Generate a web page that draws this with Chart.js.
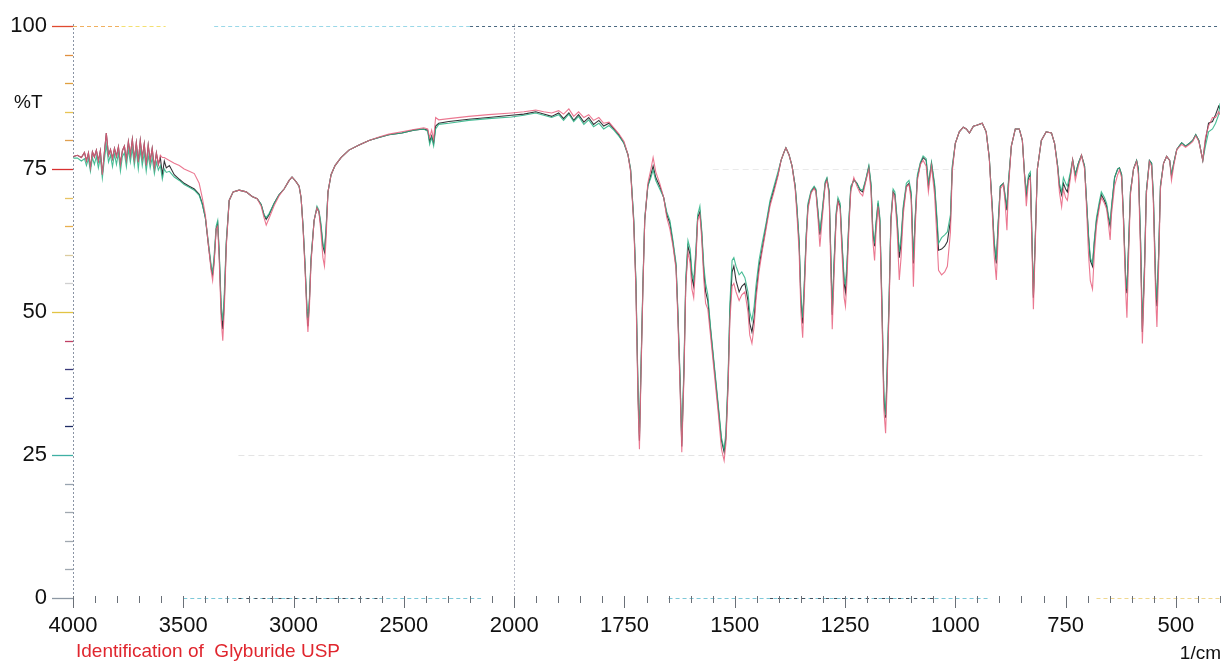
<!DOCTYPE html>
<html><head><meta charset="utf-8">
<script src="https://cdn.jsdelivr.net/npm/chart.js@4"></script>
<style>
html,body{margin:0;padding:0;background:#fff;}
#wrap{position:relative;width:1223px;height:665px;overflow:hidden;}
canvas{position:absolute;left:0;top:0;}
.lbl{position:absolute;font-family:"Liberation Sans",Arial,sans-serif;white-space:nowrap;line-height:1;}
</style></head><body>
<div id="wrap"><canvas id="c" width="1223" height="665"></canvas>
<div class="lbl" style="left:14px;top:92px;font-size:19px;color:#111">%T</div>
<div class="lbl" style="left:76px;top:641px;font-size:19px;color:#e0262e">Identification of&nbsp; Glyburide USP</div>
<div class="lbl" style="right:2px;top:643px;font-size:19px;color:#111">1/cm</div>
</div>
<script>
// ---- data (wavenumber in 1/cm, transmittance in %T) ----
const wavenumbers = [3998,3980,3962,3948,3939,3930,3921,3912,3903,3894,3885,3876,3867,3858,3849,3839,3830,3821,3812,3803,3794,3785,3776,3767,3758,3749,3740,3731,3722,3713,3704,3695,3686,3677,3668,3659,3650,3641,3631,3622,3613,3604,3595,3586,3577,3563,
3541,3518,3496,3473,3450,3428,3414,3400,3387,3373,3367,3360,3351,3344,3337,3328,3321,3314,3305,3292,3274,3247,3215,3188,3165,3147,3134,3124,3111,3088,3066,3043,3020,3007,2989,2975,2966,2957,2948,2939,2935,2928,2921,2907,2894,2885,2876,2867,2860,2853,2844,
2830,2812,2785,2749,2703,2658,2613,2568,2509,2455,2410,2392,2383,2374,2365,2356,2342,2296,2206,2116,2012,
1978,1951,1933,1915,1899,1888,1876,1865,1854,1842,1831,1820,1808,1797,1785,1774,1763,1751,1742,1736,1729,1724,1719,1716,1713,1708,1704,1697,1690,1685,1679,1670,1661,1654,1647,1640,1633,1629,1624,1620,1615,1611,1606,1601,1597,1593,1588,1584,1579,1575,1570,1566,1561,1555,1546,1537,1530,1524,1520,1515,1511,1506,1502,1497,1490,1484,1477,1470,1466,1461,1456,1452,1445,1438,1429,1420,1411,1402,1395,1388,1384,1377,1370,1363,1359,1354,1350,1346,1343,1338,1334,1327,1320,1316,1311,1307,1302,1295,1291,1286,1283,1279,1275,1270,1266,1261,1257,1252,1249,1246,1241,1237,1230,1223,1216,1210,1203,1196,1191,1187,1183,1180,1175,1171,1166,1162,1158,1155,1150,1146,1141,1137,1132,1127,1123,1118,1111,1105,1100,1095,1091,1086,1079,1073,1066,1061,1054,1047,1041,1038,1031,1024,1018,1011,1007,1000,
991,982,975,968,959,950,939,930,923,916,912,907,903,898,891,887,883,880,873,864,855,848,843,839,834,830,826,823,819,814,805,794,782,775,768,764,759,755,750,746,739,734,728,721,714,707,703,698,694,689,685,680,673,669,662,657,653,649,646,639,632,628,623,619,614,611,607,603,596,589,585,580,576,571,567,560,555,551,546,543,539,535,528,521,514,510,505,498,487,478,469,462,455,448,439,433,426,417,410,403,400];

const transBlack = [77.2,77.4,77.0,77.9,76.4,77.8,75.2,78.0,77.1,78.3,76.4,78.2,74.0,77.8,81.3,77.4,78.4,76.8,78.6,77.2,78.9,75.8,78.2,79.0,76.6,79.8,77.4,80.2,76.6,79.6,76.2,80.0,76.9,79.4,75.6,79.2,76.4,78.6,75.2,77.8,75.8,77.0,74.0,76.4,75.2,75.6,
74.0,73.2,72.5,72.0,71.5,70.6,69.0,66.5,62.0,57.5,56.5,59.0,64.5,65.5,60.0,50.0,47.0,52.0,62.0,69.5,71.0,71.3,71.0,70.2,69.8,68.8,67.0,66.2,67.0,69.0,70.5,71.5,73.0,73.6,72.8,72.0,70.0,65.0,58.0,50.0,47.5,52.0,59.0,66.0,68.2,67.5,65.0,61.5,60.5,64.0,71.0,
74.0,75.6,77.0,78.3,79.2,80.0,80.5,81.0,81.3,81.8,82.0,81.8,79.8,80.8,79.5,82.5,83.0,83.3,83.7,84.0,84.4,
84.6,85.0,84.6,84.2,84.8,83.8,84.8,83.5,84.5,83.2,84.0,82.8,83.5,82.5,83.0,82.0,81.0,79.5,77.5,74.8,66.0,55.0,35.0,27.5,38.0,55.0,66.0,72.0,74.0,75.5,73.5,72.0,70.0,67.0,65.5,62.0,58.0,50.0,38.0,26.5,40.0,55.0,61.5,60.0,56.0,54.5,60.0,66.5,67.5,64.0,57.0,53.5,52.0,47.0,40.0,33.0,27.5,25.5,28.0,38.0,50.0,57.0,58.0,55.5,53.5,54.5,55.0,52.0,48.0,46.5,49.0,53.0,58.0,61.0,65.0,69.0,71.5,74.0,76.5,78.0,78.7,77.5,75.5,72.0,68.0,62.0,52.0,48.0,53.0,63.0,68.5,71.0,71.8,71.3,67.0,63.5,67.0,72.5,73.3,71.0,62.0,49.5,58.0,67.0,69.5,68.5,62.0,55.0,53.5,57.0,66.0,71.5,73.2,72.5,71.3,71.0,73.0,75.4,72.0,64.0,61.5,65.0,69.0,66.0,50.0,35.0,31.5,38.0,52.0,66.0,71.0,70.5,66.0,59.5,62.0,68.0,72.0,72.5,70.5,58.5,66.0,73.5,76.0,77.0,76.5,72.0,76.0,72.0,65.0,60.8,61.0,61.5,62.3,66.0,75.0,79.5,
81.5,82.3,82.0,81.3,82.5,82.7,83.0,81.5,77.0,68.0,62.0,58.5,65.0,72.0,72.5,70.0,67.8,72.0,79.0,82.0,82.0,80.0,74.0,70.5,73.5,74.0,62.0,52.5,62.0,75.0,80.0,81.5,81.3,79.5,75.5,72.0,70.5,72.5,71.5,71.0,74.0,76.6,74.0,76.0,77.4,75.5,70.0,63.0,59.0,58.0,62.0,66.0,69.0,70.5,69.5,68.5,66.5,65.0,68.0,73.5,75.0,75.2,74.0,67.0,56.0,53.3,62.0,71.0,75.0,76.5,75.0,62.0,46.5,58.0,71.0,76.5,76.0,70.0,55.0,51.0,60.0,72.0,76.0,77.2,76.5,73.8,76.0,78.4,79.6,79.0,79.5,80.0,81.0,80.0,76.5,80.0,83.0,83.3,84.5,86.0,85.5];

const transPink = [77.2,77.4,77.0,77.9,76.4,77.8,75.2,78.0,77.1,78.3,76.4,78.2,74.0,77.8,81.3,77.4,78.4,76.8,78.6,77.2,78.9,75.8,78.2,79.0,76.6,79.8,77.4,80.2,76.6,79.6,76.2,80.0,76.9,79.4,75.6,79.2,76.4,78.6,75.2,77.8,75.8,77.4,77.0,77.0,76.8,76.5,
76.0,75.6,75.0,74.6,74.2,72.5,70.0,67.0,62.0,57.0,55.5,58.5,64.5,65.0,59.0,48.5,45.0,50.5,61.5,69.5,71.0,71.3,71.0,70.2,69.8,68.5,66.5,65.2,66.4,68.6,70.3,71.5,73.0,73.6,72.8,72.0,70.0,64.5,57.5,49.0,46.5,51.0,58.5,66.0,68.2,67.5,64.0,59.5,58.0,62.5,71.0,
74.0,75.6,77.0,78.3,79.2,80.0,80.6,81.1,81.5,81.9,82.2,82.0,80.5,81.8,80.2,84.0,83.6,83.8,84.2,84.5,84.8,
85.0,85.3,85.0,84.8,85.2,84.6,85.5,84.2,85.0,84.0,84.5,83.5,84.0,83.0,83.2,82.2,81.2,79.8,77.5,74.5,65.5,54.0,33.5,26.0,37.0,54.5,66.0,72.5,75.0,77.0,74.5,72.5,70.0,66.5,64.5,61.5,57.5,49.0,37.0,25.5,39.0,54.5,60.5,58.5,54.0,52.5,59.0,66.0,67.0,63.0,55.5,51.5,50.5,46.0,39.0,32.0,26.0,24.0,27.0,37.0,48.5,54.5,55.0,53.5,52.0,53.0,53.5,50.0,46.0,44.5,47.5,52.0,57.0,60.5,64.5,68.5,71.0,73.8,76.5,78.0,78.7,77.5,75.5,71.5,67.0,60.5,50.0,45.5,51.5,62.0,68.0,70.8,71.6,71.0,66.0,61.4,66.0,72.2,73.0,70.5,60.0,47.0,56.0,66.5,69.3,68.0,60.5,52.5,51.0,55.0,65.0,71.0,73.5,72.0,70.8,70.3,72.8,75.0,71.0,62.5,59.0,63.5,68.5,65.0,48.5,33.0,28.8,36.0,51.0,65.5,70.8,70.0,64.5,55.6,59.5,67.0,71.8,72.3,69.5,54.4,64.5,73.0,75.8,76.5,75.5,71.0,75.5,70.5,62.0,57.3,56.5,57.0,58.0,64.0,74.5,79.5,
81.5,82.3,82.0,81.3,82.5,82.7,83.0,81.5,76.8,67.0,60.0,55.6,63.0,71.5,72.3,69.0,64.3,71.0,79.0,82.0,82.0,80.0,73.5,68.5,73.0,73.5,60.5,50.5,61.0,75.0,80.0,81.5,81.3,79.5,75.0,71.0,68.4,71.5,70.0,69.5,73.5,76.6,73.0,75.5,77.4,75.0,69.0,60.0,55.5,54.0,60.0,65.0,68.5,70.0,69.0,68.0,65.5,62.6,67.0,72.0,74.0,74.8,73.5,66.0,54.0,49.0,60.0,70.5,75.0,76.3,74.0,60.0,44.5,56.5,70.5,76.3,75.5,69.0,53.0,47.4,58.0,71.5,76.0,77.2,76.5,73.0,75.5,78.4,79.3,78.8,79.3,79.8,80.8,79.8,76.5,80.5,82.5,84.0,84.0,85.0,84.5];

const transGreen = [76.9,76.9,76.4,76.8,75.6,76.8,74.6,77.0,75.8,77.2,75.2,77.0,73.4,76.6,79.2,76.2,77.4,75.4,77.6,75.8,77.8,74.6,77.2,77.8,75.4,78.4,76.2,78.6,75.6,78.2,75.0,78.4,75.6,77.8,74.6,77.4,75.2,77.0,74.2,76.2,74.8,75.6,73.2,75.0,74.4,74.6,
73.6,73.0,72.3,71.8,71.3,70.4,68.8,66.5,62.5,58.0,57.0,60.0,65.0,66.0,60.5,51.0,48.5,53.5,62.5,69.5,71.0,71.3,71.0,70.2,69.8,68.8,67.0,66.5,67.2,69.0,70.5,71.5,73.0,73.6,72.8,72.0,70.0,65.0,58.5,50.5,48.2,52.5,59.5,66.0,68.5,67.8,65.5,62.0,61.0,64.5,71.0,
74.0,75.6,77.0,78.3,79.2,80.0,80.5,81.0,81.3,81.8,82.0,81.6,79.3,80.5,79.0,82.0,82.8,83.0,83.5,83.8,84.1,
84.4,84.8,84.4,84.0,84.5,83.5,84.6,83.3,84.2,82.8,83.6,82.4,83.0,82.0,82.6,81.8,80.8,79.5,77.5,75.0,66.5,55.5,36.0,28.5,39.0,55.5,66.5,72.0,73.5,74.8,73.0,71.5,70.0,67.5,66.0,62.5,58.5,50.5,39.0,27.5,41.0,56.0,62.5,61.0,57.0,55.5,61.0,67.0,68.5,64.5,58.0,55.0,53.0,47.5,40.5,33.5,28.0,26.0,29.0,39.0,51.5,59.0,59.5,58.0,56.5,57.0,56.0,53.5,50.0,48.5,51.0,54.5,59.0,62.0,65.5,69.5,72.0,74.5,76.5,78.0,78.7,77.5,75.5,72.0,68.5,62.5,53.0,49.0,54.0,63.5,69.0,71.2,72.0,71.5,67.5,64.0,67.5,72.8,73.5,71.2,62.5,50.0,58.5,67.5,70.0,69.0,62.5,56.0,55.0,58.0,66.5,72.0,73.0,72.5,71.5,71.3,73.2,75.6,72.5,64.5,62.0,65.5,69.5,66.5,51.0,36.0,32.0,39.0,53.0,66.5,71.5,71.0,66.5,60.5,63.0,68.5,72.5,73.0,71.0,59.0,66.5,74.0,76.2,77.3,76.8,72.5,76.2,72.5,66.0,62.0,63.0,63.5,64.0,67.0,75.5,79.5,
81.5,82.3,82.0,81.3,82.5,82.7,83.0,81.5,77.0,68.0,62.5,59.0,65.5,72.0,72.5,70.5,68.5,72.5,79.0,82.0,82.0,80.0,74.0,71.0,74.0,74.5,62.5,53.0,62.5,75.0,80.0,81.5,81.3,79.5,75.5,72.5,71.0,73.5,72.5,72.0,74.5,76.6,74.0,76.0,77.4,75.5,70.0,63.5,59.5,58.5,62.5,66.5,69.5,71.0,70.0,69.0,67.0,65.5,68.5,73.5,75.0,75.2,74.0,67.0,56.5,54.0,62.5,71.0,75.0,76.5,75.0,62.5,47.0,58.5,71.0,76.5,76.0,70.5,56.0,52.0,60.5,72.0,76.0,77.2,76.5,74.0,76.0,78.4,79.6,79.0,79.5,80.0,81.0,80.0,76.5,79.0,81.5,82.0,83.0,84.5,86.5];

const xTickLabels = [4000,3500,3000,2500,2000,1750,1500,1250,1000,750,500];
const yTickLabels = [0,25,50,75,100];

// ---- axis transform: 4000-2000 at half scale, 2000-400 at full scale ----
function toU(w){ return w >= 2000 ? (4000 - w) / 500 : 4 + (2000 - w) / 250; }
const U_MAX = toU(400);

function series(vals){ return wavenumbers.map((w,i)=>({x:toU(w), y:vals[i]})); }

const yTickColors = {0:'#8d98a4',5:'#a0a8b0',10:'#a0a8b0',15:'#a0a8b0',20:'#98a4b0',25:'#3fb0a4',30:'#1e2c64',35:'#28387e',40:'#3a3a7a',45:'#c04064',50:'#e2c444',55:'#d0d0d0',60:'#dccca0',65:'#e8b050',70:'#e8c464',75:'#d83030',80:'#e0a050',85:'#e8c454',90:'#e0a040',95:'#e09040',100:'#e04a30'};

function dashed(ctx, x1, y1, x2, y2, color, dash){
  ctx.beginPath(); ctx.setLineDash(dash); ctx.strokeStyle = color;
  ctx.moveTo(x1,y1); ctx.lineTo(x2,y2); ctx.stroke();
}

const deco = {
  id:'deco',
  beforeDatasetsDraw(chart){
    const {ctx, chartArea:a, scales:{x,y}} = chart;
    ctx.save(); ctx.lineWidth = 1;
    const y0 = y.getPixelForValue(0), y100 = y.getPixelForValue(100);
    // faint guide lines
    dashed(ctx, x.getPixelForValue(toU(3250)), y.getPixelForValue(25)+0.5, x.getPixelForValue(toU(440)), y.getPixelForValue(25)+0.5, '#e4e4e4', [6,4]);
    dashed(ctx, x.getPixelForValue(toU(1550)), y.getPixelForValue(75)+0.5, x.getPixelForValue(toU(1000)), y.getPixelForValue(75)+0.5, '#eaeaea', [6,4]);
    // 100 line
    dashed(ctx, a.left, y100+0.5, x.getPixelForValue(toU(3780)), y100+0.5, '#f0b060', [4,3]);
    dashed(ctx, x.getPixelForValue(toU(3780)), y100+0.5, x.getPixelForValue(toU(3580)), y100+0.5, '#f4e070', [4,3]);
    dashed(ctx, x.getPixelForValue(toU(3360)), y100+0.5, x.getPixelForValue(toU(2200)), y100+0.5, '#9ad8e8', [4,3]);
    dashed(ctx, x.getPixelForValue(toU(2200)), y100+0.5, a.right, y100+0.5, '#4a6880', [3,3]);
    // 0 line
    dashed(ctx, x.getPixelForValue(toU(3500)), y0+0.5, x.getPixelForValue(toU(2150)), y0+0.5, '#7ec8d8', [4,3]);
    dashed(ctx, x.getPixelForValue(toU(3250)), y0+0.5, x.getPixelForValue(toU(2600)), y0+0.5, '#44505c', [3,5]);
    dashed(ctx, x.getPixelForValue(toU(1650)), y0+0.5, x.getPixelForValue(toU(920)), y0+0.5, '#7ec8d8', [4,3]);
    dashed(ctx, x.getPixelForValue(toU(1420)), y0+0.5, x.getPixelForValue(toU(1050)), y0+0.5, '#44505c', [3,5]);
    dashed(ctx, x.getPixelForValue(toU(680)), y0+0.5, a.right, y0+0.5, '#f0d890', [4,3]);
    // y axis line and 2000 line
    dashed(ctx, a.left+0.5, y100-2, a.left+0.5, y0+10, '#8a94a4', [2,2]);
    const x2 = Math.round(x.getPixelForValue(toU(2000)))+0.5;
    dashed(ctx, x2, y100-2, x2, y0+8, '#b4b8c4', [2,2]);
    ctx.setLineDash([]);
    // y ticks every 5
    for(let v=0; v<=100; v+=5){
      const py = Math.round(y.getPixelForValue(v))+0.5;
      const len = v%25===0 ? 21 : 8;
      ctx.strokeStyle = yTickColors[v]; ctx.lineWidth = 1.3;
      ctx.beginPath(); ctx.moveTo(a.left-len, py); ctx.lineTo(a.left, py); ctx.stroke();
    }
    // x ticks every 0.2 units
    ctx.lineWidth = 1; ctx.strokeStyle = '#6a7078';
    for(let k=0; k<=52; k++){
      const px = Math.round(x.getPixelForValue(k*0.2))+0.5;
      const major = k%5===0;
      ctx.beginPath(); ctx.moveTo(px, y0-2); ctx.lineTo(px, y0 + (major?10:5)); ctx.stroke();
    }
    ctx.restore();
  }
};

new Chart(document.getElementById('c'), {
  type:'line',
  data:{datasets:[
    {label:'pink', data:series(transPink), borderColor:'rgba(232,96,126,0.85)', borderWidth:1.1, pointRadius:0, tension:0},
    {label:'green', data:series(transGreen), borderColor:'rgba(40,176,130,0.85)', borderWidth:1.1, pointRadius:0, tension:0},
    {label:'black', data:series(transBlack), borderColor:'rgba(30,30,34,0.9)', borderWidth:1.1, pointRadius:0, tension:0}
  ]},
  options:{
    responsive:false, animation:false, devicePixelRatio:1,
    layout:{padding:{top:26,right:3,left:0,bottom:0}},
    plugins:{legend:{display:false}, tooltip:{enabled:false}},
    scales:{
      x:{type:'linear', min:0, max:U_MAX,
        afterFit(s){ s.height = 67; s.paddingLeft = 0; s.paddingRight = 0; },
        afterBuildTicks(s){ s.ticks = xTickLabels.map(w=>({value:toU(w)})); },
        grid:{display:false, drawTicks:false}, border:{display:false},
        ticks:{autoSkip:false, maxRotation:0, padding:15, color:'#111',
          font:{family:'"Liberation Sans", Arial, sans-serif', size:22},
          callback:(v,i)=>String(xTickLabels[i])}
      },
      y:{min:0, max:100,
        afterFit(s){ s.width = 73; s.paddingTop = 0; s.paddingBottom = 0; },
        afterBuildTicks(s){ s.ticks = yTickLabels.map(v=>({value:v})); },
        grid:{display:false, drawTicks:false}, border:{display:false},
        ticks:{padding:26, color:'#111',
          font:{family:'"Liberation Sans", Arial, sans-serif', size:22},
          callback:(v,i)=>String(yTickLabels[i])}
      }
    }
  },
  plugins:[deco]
});
</script>
</body></html>
